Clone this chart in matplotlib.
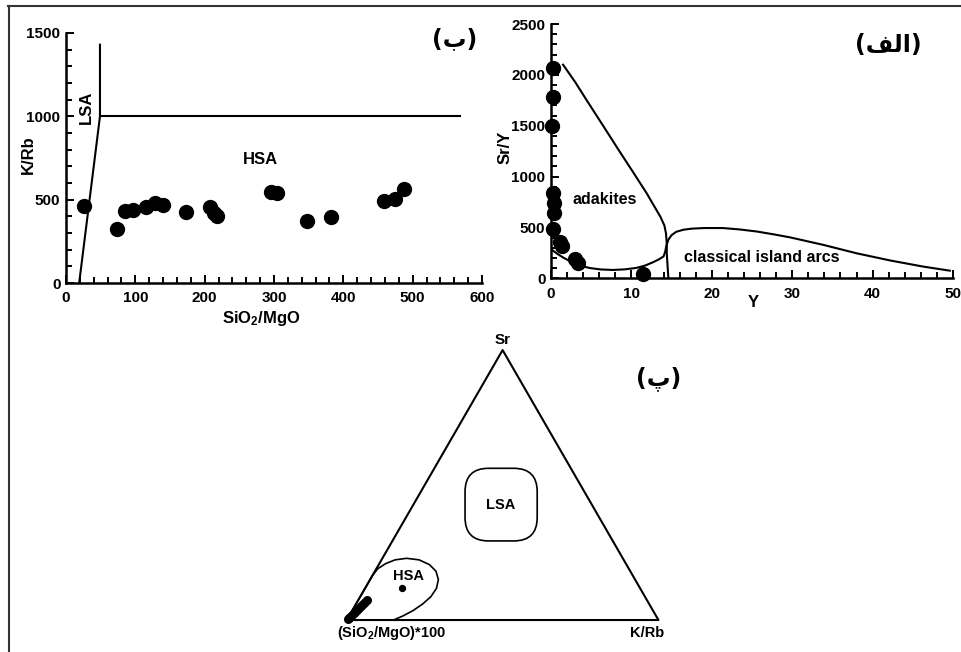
"""
plot.py

Adakite discrimination diagrams: Sr/Y vs Y, K/Rb vs SiO2/MgO and the
Sr - K/Rb - (SiO2/MgO)*100 ternary plot.
"""
import numpy as np
import matplotlib
matplotlib.use('Agg')
import matplotlib.pyplot as plt
from matplotlib.lines import Line2D
from matplotlib.patches import FancyBboxPatch
from matplotlib.ticker import MultipleLocator

plt.rcParams['font.family'] = ['Liberation Sans', 'DejaVu Sans']
plt.rcParams['font.weight'] = 'bold'
plt.rcParams['mathtext.default'] = 'regular'

# ---- panel (ب): K/Rb vs SiO2/MgO ----
sio2_mgo = [26, 73, 85, 97, 116, 128, 140, 173, 207, 213, 218, 295, 304, 347, 382, 459, 475, 488]
k_rb = [460, 325, 430, 440, 455, 478, 470, 425, 455, 420, 400, 545, 540, 375, 395, 490, 505, 565]
lsa_line_x = [19, 49, 49]
lsa_line_y = [0, 1000, 1430]
hsa_line_x = [49, 568]
hsa_line_y = [1000, 1000]

# ---- panel (الف): Sr/Y vs Y ----
y_ppm = [0.2, 0.2, 0.1, 0.3, 0.4, 0.4, 0.3, 1.1, 1.4, 3.0, 3.3, 11.4]
sr_y = [2065, 1780, 1500, 840, 740, 640, 480, 360, 320, 190, 150, 45]
adakite_upper_x = [1.5, 3.0, 4.4, 6.4, 8.4, 10.2, 11.9, 12.9, 13.6, 14.1, 14.3, 14.4, 14.4, 14.5, 14.6]
adakite_upper_y = [2100, 1930, 1755, 1510, 1263, 1045, 836, 700, 606, 520, 443, 340, 246, 120, 0]
arc_x = [0.2, 0.8, 1.5, 2.2, 2.8, 3.8, 4.9, 6.2, 7.7, 9.2, 10.6, 11.7, 12.6, 13.4, 14.0,
         14.2, 14.35, 14.6, 15.0, 15.6, 16.5, 17.5, 19.0, 21.4, 23.5, 25.6, 27.7, 29.7,
         33.9, 38.0, 42.2, 46.3, 49.6]
arc_y = [275, 240, 205, 175, 150, 120, 100, 87, 82, 88, 102, 125, 155, 185, 215,
         260, 320, 380, 425, 458, 478, 488, 494, 494, 480, 460, 432, 403,
         328, 246, 175, 115, 75]

# ---- panel (پ): ternary, fractions of Sr and K/Rb (rest is (SiO2/MgO)*100) ----
tern_sr = [0.004, 0.009, 0.013, 0.019, 0.026, 0.031, 0.038, 0.045, 0.053, 0.060, 0.068, 0.074, 0.118]
tern_krb = [0.002, 0.004, 0.005, 0.008, 0.009, 0.012, 0.014, 0.016, 0.019, 0.022, 0.024, 0.027, 0.117]
hsa_field_sr = [0, 0.166, 0.1905, 0.209, 0.2229, 0.2286, 0.2229, 0.2055, 0.1813, 0.1501,
                0.1178, 0.0866, 0.0589, 0.0346, 0.0150, 0, 0]
hsa_field_krb = [0, 0, 0.0047, 0.0205, 0.0436, 0.0777, 0.1206, 0.1622, 0.1954, 0.2189,
                 0.2291, 0.2267, 0.2136, 0.1947, 0.1725, 0.150, 0]
lsa_field_sr = [0.293, 0.562]
lsa_field_krb = [0.233, 0.330]

H = np.sqrt(3) / 2


def tern_xy(sr, krb):
    sr = np.asarray(sr, dtype=float)
    krb = np.asarray(krb, dtype=float)
    return krb + sr / 2, sr * H


def style_axes(ax):
    for side in ('top', 'right'):
        ax.spines[side].set_visible(False)
    for side in ('left', 'bottom'):
        ax.spines[side].set_linewidth(1.8)
    ax.tick_params(which='both', direction='in', width=1.4, labelsize=11, pad=4)
    ax.tick_params(which='major', length=6)
    ax.tick_params(which='minor', length=4)
    ax.tick_params(axis='x', pad=6)


fig = plt.figure(figsize=(9.62, 6.52), dpi=100)

# figure frame (top and left only)
fig.add_artist(Line2D([8 / 962, 1], [1 - 6 / 652, 1 - 6 / 652], color='#333333', lw=1.5))
fig.add_artist(Line2D([9 / 962, 9 / 962], [0, 1 - 6 / 652], color='#333333', lw=1.5))

# panel (ب)
ax1 = fig.add_axes([66 / 962, 1 - 283 / 652, 416 / 962, 250 / 652])
ax1.plot(lsa_line_x, lsa_line_y, color='black', lw=1.5)
ax1.plot(hsa_line_x, hsa_line_y, color='black', lw=1.5)
ax1.scatter(sio2_mgo, k_rb, s=100, color='black', zorder=3, clip_on=False)
ax1.set_xlim(0, 600)
ax1.set_ylim(0, 1500)
ax1.xaxis.set_major_locator(MultipleLocator(100))
ax1.xaxis.set_minor_locator(MultipleLocator(20))
ax1.yaxis.set_major_locator(MultipleLocator(500))
ax1.yaxis.set_minor_locator(MultipleLocator(100))
style_axes(ax1)
ax1.set_xlabel('SiO$_2$/MgO', fontsize=12, fontweight='bold')
ax1.set_ylabel('K/Rb', fontsize=12, fontweight='bold')
ax1.xaxis.set_label_coords(0.469, -0.14)
ax1.yaxis.set_label_coords(-0.091, 0.512)
ax1.xaxis.label.set_va('center')
ax1.yaxis.label.set_va('center')
ax1.text(29, 1056, 'LSA', rotation=90, fontsize=12, ha='center', va='center')
ax1.text(280, 743, 'HSA', fontsize=12, ha='center', va='center')
ax1.text(0.933, 0.976, '(\u0628)', transform=ax1.transAxes, fontsize=17,
         family=['DejaVu Sans'], fontweight='bold', ha='center', va='center')

# panel (الف)
ax2 = fig.add_axes([551 / 962, 1 - 278.3 / 652, 402 / 962, 254.3 / 652])
ax2.plot(adakite_upper_x, adakite_upper_y, color='black', lw=1.5)
ax2.plot(arc_x, arc_y, color='black', lw=1.5)
ax2.scatter(y_ppm, sr_y, s=100, color='black', zorder=3, clip_on=False)
ax2.set_xlim(0, 50)
ax2.set_ylim(0, 2500)
ax2.xaxis.set_major_locator(MultipleLocator(10))
ax2.xaxis.set_minor_locator(MultipleLocator(2))
ax2.yaxis.set_major_locator(MultipleLocator(500))
ax2.yaxis.set_minor_locator(MultipleLocator(100))
style_axes(ax2)
ax2.set_xlabel('Y', fontsize=12, fontweight='bold')
ax2.set_ylabel('Sr/Y', fontsize=12, fontweight='bold')
ax2.xaxis.set_label_coords(0.5025, -0.097)
ax2.yaxis.set_label_coords(-0.114, 0.516)
ax2.xaxis.label.set_va('center')
ax2.yaxis.label.set_va('center')
ax2.text(6.7, 777, 'adakites', fontsize=11.5, ha='center', va='center')
ax2.text(26.2, 207, 'classical island arcs', fontsize=11.5, ha='center', va='center')
ax2.text(0.838, 0.917, '(\ufed2\ufedf\ufe8d)', transform=ax2.transAxes, fontsize=17,
         family=['DejaVu Sans'], fontweight='bold', ha='center', va='center')

# panel (پ) ternary
ax3 = fig.add_axes([300 / 962, 1 - 651.2 / 652, 405.2 / 962, 342.9 / 652])
ax3.set_xlim(-0.15, 1.15)
ax3.set_ylim(-0.1, 1.0)
ax3.axis('off')
tri_x, tri_y = tern_xy([0, 0, 1, 0], [0, 1, 0, 0])
ax3.plot(tri_x, tri_y, color='black', lw=1.5)

hx, hy = tern_xy(hsa_field_sr, hsa_field_krb)
ax3.plot(hx, hy, color='black', lw=1.2)

lx, ly = tern_xy(lsa_field_sr, lsa_field_krb)
r = 0.075
ax3.add_patch(FancyBboxPatch((lx[0] + r, ly[0] + r), lx[1] - lx[0] - 2 * r, ly[1] - ly[0] - 2 * r,
                             boxstyle=f'round,pad={r},rounding_size={r}',
                             facecolor='none', edgecolor='black', lw=1.2))
ax3.text((lx[0] + lx[1]) / 2, (ly[0] + ly[1]) / 2, 'LSA', fontsize=10.5, ha='center', va='center')

px, py = tern_xy(tern_sr, tern_krb)
ax3.scatter(px[:-1], py[:-1], s=30, color='black', zorder=3, clip_on=False)
ax3.scatter(px[-1:], py[-1:], s=18, color='black', zorder=3)
ax3.text(0.198, 0.14, 'HSA', fontsize=10.5, ha='center', va='center')

ax3.annotate('Sr', (0.5, H), xytext=(0, 2), textcoords='offset points',
             ha='center', va='bottom', fontsize=11)
ax3.annotate('(SiO$_2$/MgO)*100', (0, 0), xytext=(32, -9), textcoords='offset points',
             ha='center', va='center', fontsize=10.5)
ax3.annotate('K/Rb', (1, 0), xytext=(-8, -9), textcoords='offset points',
             ha='center', va='center', fontsize=10.5)
ax3.text(0.999, 0.776, '(\ufb56)', fontsize=17, family=['DejaVu Sans'],
         fontweight='bold', ha='center', va='center')

fig.savefig('out.png', dpi=100)
